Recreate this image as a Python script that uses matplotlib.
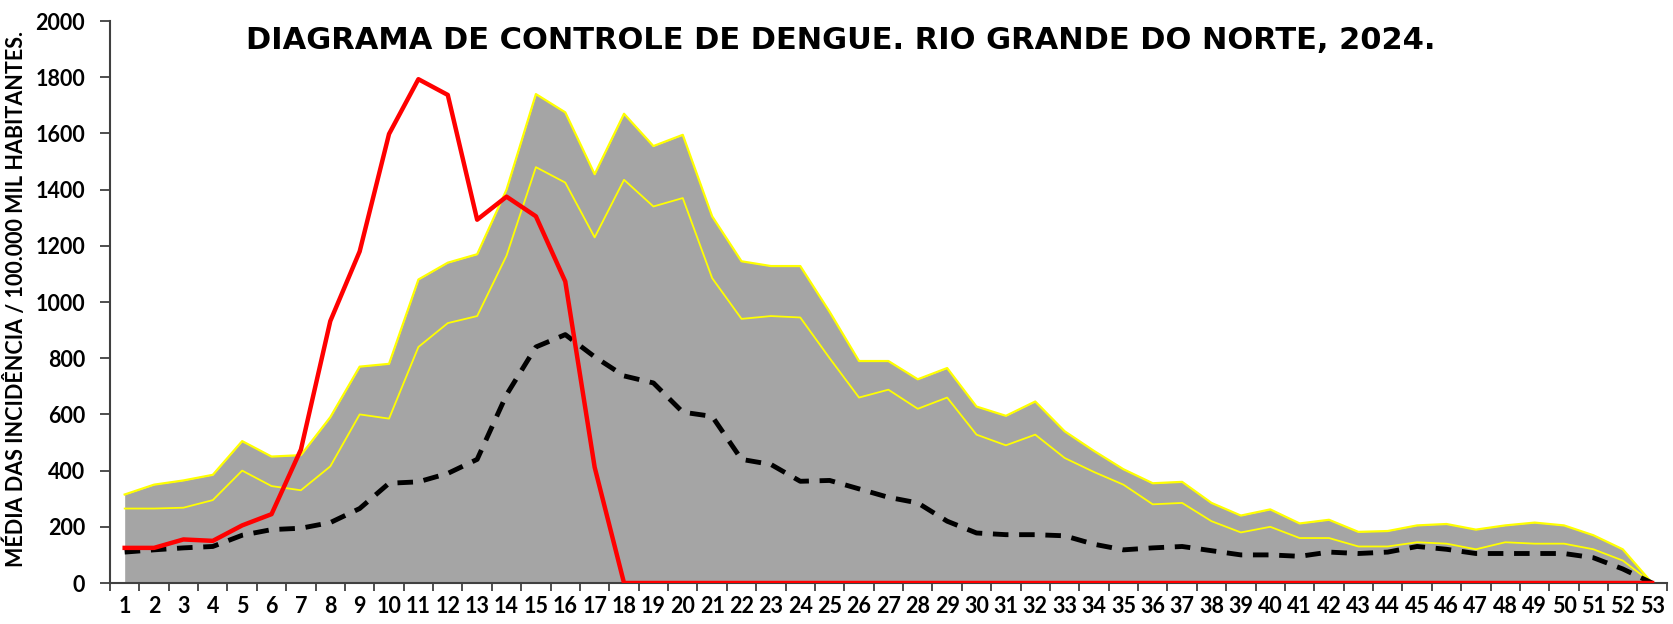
import numpy as np
import matplotlib.pyplot as plt
from matplotlib.ticker import MultipleLocator

# epidemiological weeks
semanas = list(range(1, 54))

# upper limit of the control diagram (top of gray area)
limite_superior = [315, 350, 365, 385, 505, 450, 455, 590, 770, 780,
                   1080, 1140, 1170, 1400, 1740, 1675, 1455, 1670, 1555, 1595,
                   1305, 1145, 1128, 1128, 965, 790, 790, 725, 765, 628,
                   595, 646, 540, 470, 405, 355, 360, 285, 240, 262,
                   212, 225, 182, 185, 205, 210, 190, 205, 215, 205,
                   170, 120, 0]

# inner yellow line
limite_medio = [265, 265, 268, 295, 400, 345, 330, 415, 600, 585,
                840, 925, 950, 1165, 1480, 1425, 1230, 1435, 1340, 1370,
                1085, 940, 950, 945, 800, 660, 688, 620, 660, 528,
                490, 528, 445, 395, 350, 280, 285, 220, 180, 200,
                160, 160, 130, 130, 145, 140, 120, 145, 140, 140,
                120, 80, 0]

# mean incidence (dashed)
media = [110, 118, 125, 130, 170, 190, 195, 215, 265, 355,
         360, 390, 440, 670, 840, 884, 805, 737, 712, 608,
         593, 440, 422, 362, 365, 335, 305, 285, 220, 178,
         172, 172, 168, 138, 118, 125, 130, 115, 100, 100,
         95, 110, 105, 110, 130, 120, 105, 105, 105, 105,
         90, 50, 0]

# 2024 incidence (red)
incidencia_2024 = [125, 125, 155, 150, 205, 245, 475, 932, 1180, 1598,
                   1793, 1737, 1293, 1375, 1305, 1073, 412, 0, 0, 0,
                   0, 0, 0, 0, 0, 0, 0, 0, 0, 0,
                   0, 0, 0, 0, 0, 0, 0, 0, 0, 0,
                   0, 0, 0, 0, 0, 0, 0, 0, 0, 0,
                   0, 0, 0]

titulo = "DIAGRAMA DE CONTROLE DE DENGUE. RIO GRANDE DO NORTE, 2024."
rotulo_y = "MÉDIA DAS INCIDÊNCIA / 100.000 MIL HABITANTES."

fig = plt.figure(figsize=(16.74, 6.24), dpi=100)
ax = fig.add_axes([0.0657, 0.0657, 0.930, 0.9006])

ax.fill_between(semanas, 0, limite_superior, color="#a5a5a5", lw=0, zorder=1)
ax.plot(semanas, limite_superior, color="#ffff00", lw=1.6, zorder=2)
ax.plot(semanas, limite_medio, color="#ffff00", lw=1.3, zorder=2)
ax.plot(semanas, media, color="black", lw=3.5, ls=(0, (3.2, 2.2)), zorder=3)
ax.plot(semanas, incidencia_2024, color="#ff0000", lw=3.2, zorder=4)

ax.set_xlim(0.5, 53.5)
ax.set_ylim(0, 2000)
ax.yaxis.set_major_locator(MultipleLocator(200))
ax.set_xticks(semanas)
ax.set_xticklabels([str(s) for s in semanas])
ax.set_xticks(np.arange(0.5, 54, 1), minor=True)
ax.tick_params(axis="x", which="major", length=0, pad=9)
ax.tick_params(axis="x", which="minor", length=6, width=1.3, color="#404040")
ax.tick_params(axis="y", length=7, width=1.3, color="#404040", pad=11)

for lab in ax.get_xticklabels() + ax.get_yticklabels():
    lab.set_fontfamily("Lato")
    lab.set_fontweight("bold")
    lab.set_fontsize(15.5)

for s in ["top", "right"]:
    ax.spines[s].set_visible(False)
for s in ["left", "bottom"]:
    ax.spines[s].set_color("#404040")
    ax.spines[s].set_linewidth(1.5)

ax.set_ylabel(rotulo_y, fontfamily="Lato", fontweight="bold", fontsize=15.5)
ax.yaxis.set_label_coords(-0.0535, 0.506)

fig.text(0.502, 0.935, titulo, ha="center", va="center",
         fontfamily="DejaVu Sans", fontweight="bold", fontsize=22)

fig.savefig("out.png", dpi=100)
